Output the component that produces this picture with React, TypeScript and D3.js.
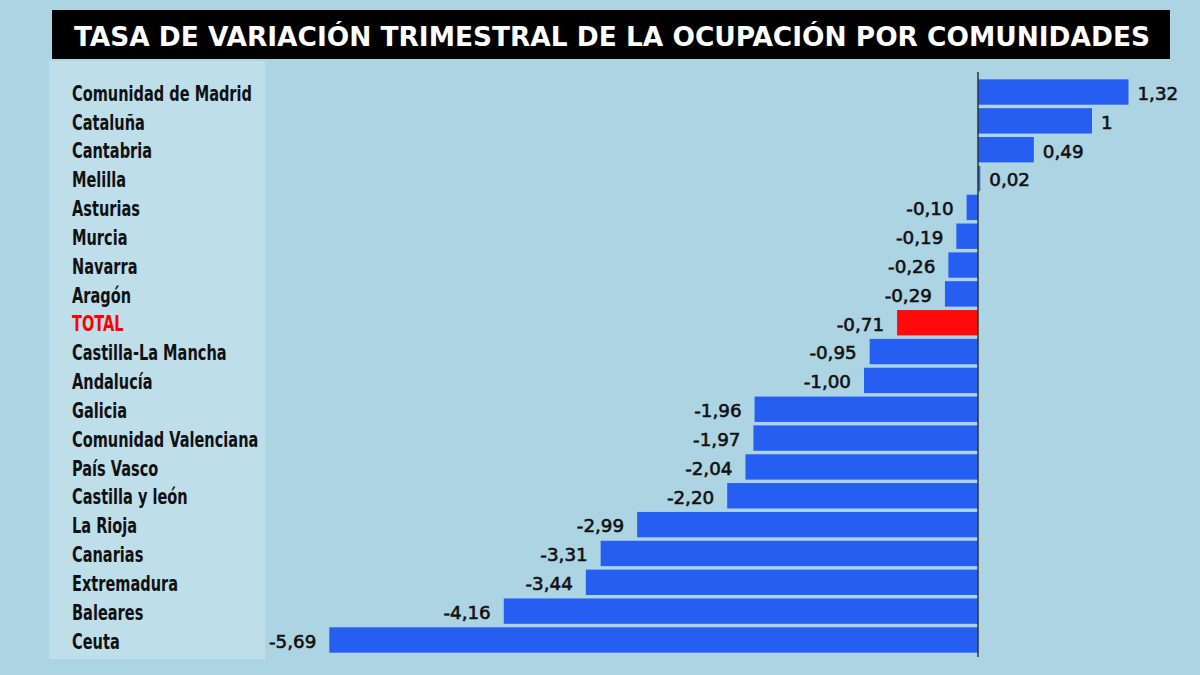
import React from "react";
import * as d3 from "d3";

const categories = [
  "Comunidad de Madrid", "Cataluña", "Cantabria", "Melilla", "Asturias", "Murcia", "Navarra", "Aragón",
  "TOTAL", "Castilla-La Mancha", "Andalucía", "Galicia", "Comunidad Valenciana", "País Vasco",
  "Castilla y león", "La Rioja", "Canarias", "Extremadura", "Baleares", "Ceuta",
];
const values = [1.32, 1, 0.49, 0.02, -0.1, -0.19, -0.26, -0.29, -0.71, -0.95, -1.0, -1.96, -1.97, -2.04, -2.2, -2.99, -3.31, -3.44, -4.16, -5.69];
const valueLabels = ["1,32", "1", "0,49", "0,02", "-0,10", "-0,19", "-0,26", "-0,29", "-0,71", "-0,95", "-1,00", "-1,96", "-1,97", "-2,04", "-2,20", "-2,99", "-3,31", "-3,44", "-4,16", "-5,69"];
const highlight = "TOTAL";
const title = "TASA DE VARIACIÓN TRIMESTRAL DE LA OCUPACIÓN POR COMUNIDADES";

const W = 1200, H = 675;
const condensed = "'DejaVu Sans Condensed', 'DejaVu Sans', sans-serif";
const numFont = "'DejaVu Sans', sans-serif";

export default function App() {
  const x = d3.scaleLinear().domain([-6, 2]).range([294, 1206]);
  const y = d3.scaleBand<string>().domain(categories).range([77.6, 654.4]).paddingInner(0.12).paddingOuter(0.06);
  const x0 = x(0);
  return (
    <div style={{ position: "fixed", left: 0, top: 0, width: W, height: H }}>
      <svg width={W} height={H} style={{ display: "block" }}>
        <rect x={0} y={0} width={W} height={H} fill="#add4e3" />
        <rect x={52} y={10} width={1118} height={49} fill="#000" />
        <text x={74} y={45.5} fill="#fff" fontFamily={condensed} fontStretch="condensed" fontWeight="bold" fontSize={27}
          textLength={1076} lengthAdjust="spacingAndGlyphs">{title}</text>
        <rect x={49} y={61} width={216} height={598} fill="#bedeea" />
        {categories.map((c, i) => {
          const v = values[i];
          const yc = (y(c) as number) + y.bandwidth() / 2;
          const isH = c === highlight;
          return (
            <g key={c}>
              <text transform={`translate(72,${yc + 8.7}) scale(0.76,1)`} fontFamily={condensed} fontStretch="condensed"
                fontWeight="bold" fontSize={21.3} fill={isH ? "#ff0000" : "#111"}>{c}</text>
              <rect x={Math.min(x(v), x0)} y={y(c)} width={Math.abs(x(v) - x0)} height={y.bandwidth()}
                fill={isH ? "#ff0a0a" : "#265ef2"} />
              <text x={v >= 0 ? x(v) + 9 : x(v) - 13} y={yc + 7.8} textAnchor={v >= 0 ? "start" : "end"}
                fontFamily={numFont} fontSize={18.3} fill="#111" stroke="#111" strokeWidth={0.6}>{valueLabels[i]}</text>
            </g>
          );
        })}
        <line x1={x0} x2={x0} y1={72} y2={657} stroke="#333" strokeWidth={1.5} />
      </svg>
    </div>
  );
}
